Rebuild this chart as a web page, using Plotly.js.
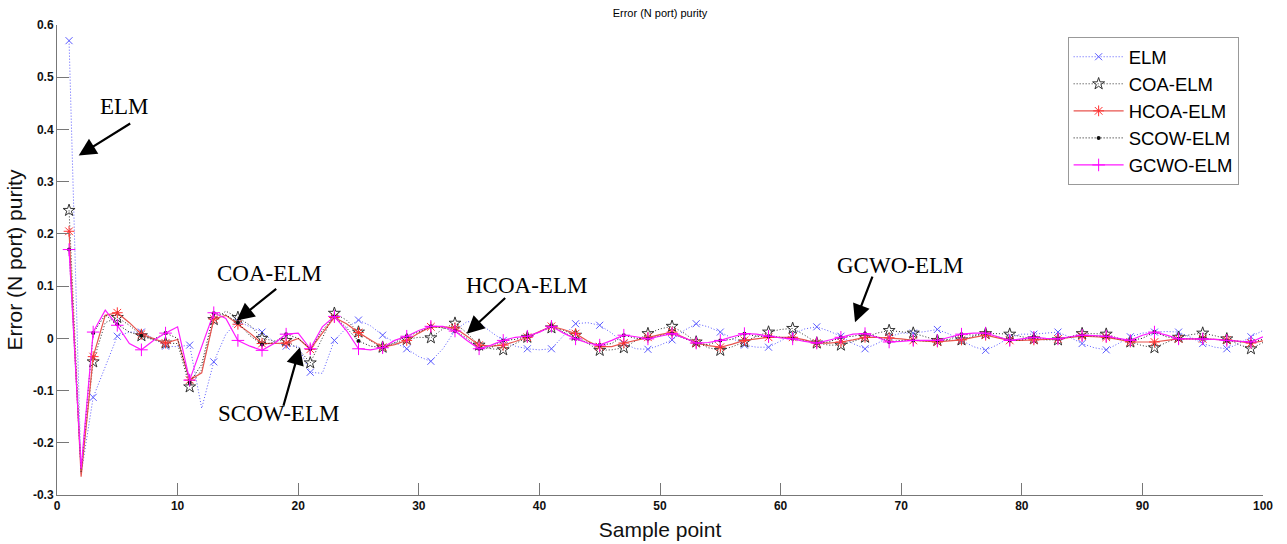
<!DOCTYPE html>
<html>
<head>
<meta charset="utf-8">
<script src="https://cdn.plot.ly/plotly-3.0.1.min.js"></script>
<style>html,body{margin:0;padding:0;background:#fff;}#chart{width:1287px;height:544px;}</style>
</head>
<body>
<div id="chart"></div>
<script>
// ---- data ----
const seriesNames = ['ELM', 'COA-ELM', 'HCOA-ELM', 'SCOW-ELM', 'GCWO-ELM'];

const elm = [0.57,-0.26,-0.113,-0.055,0.004,0.012,0.012,0.0,-0.015,-0.016,
  -0.013,-0.134,-0.045,0.008,0.033,0.022,0.012,-0.007,-0.015,-0.015,
  -0.065,-0.067,-0.004,0.02,0.035,0.024,0.006,-0.008,-0.02,-0.035,
  -0.044,-0.02,0.015,0.032,0.03,0.012,-0.004,-0.015,-0.02,-0.022,
  -0.02,0.005,0.028,0.03,0.025,0.01,-0.01,-0.02,-0.021,-0.013,
  -0.003,0.015,0.028,0.022,0.012,0.0,-0.013,-0.017,-0.017,-0.005,
  0.008,0.018,0.022,0.014,0.004,-0.01,-0.02,-0.01,0.003,0.01,
  0.01,0.013,0.017,0.008,-0.004,-0.016,-0.023,-0.012,0.002,0.008,
  0.008,0.01,0.012,0.002,-0.01,-0.018,-0.022,-0.01,0.003,0.01,
  0.012,0.013,0.012,0.002,-0.01,-0.017,-0.02,-0.01,0.003,0.015];

const coa = [0.245,-0.255,-0.045,0.03,0.04,0.025,0.005,-0.003,-0.009,-0.01,
  -0.093,-0.06,0.036,0.052,0.04,0.025,0.0,-0.005,-0.004,-0.02,
  -0.047,0.0,0.048,0.035,0.012,-0.005,-0.017,-0.01,-0.002,0.002,
  0.001,0.018,0.029,0.01,-0.013,-0.02,-0.022,-0.01,0.002,0.013,
  0.02,0.015,0.006,-0.01,-0.023,-0.022,-0.018,-0.005,0.009,0.018,
  0.023,0.01,-0.007,-0.018,-0.023,-0.016,-0.007,0.004,0.012,0.017,
  0.019,0.006,-0.009,-0.013,-0.013,-0.006,0.002,0.01,0.015,0.013,
  0.01,0.003,-0.004,-0.004,-0.003,0.004,0.009,0.009,0.008,0.003,
  -0.001,-0.003,-0.003,0.003,0.009,0.009,0.008,0.0,-0.007,-0.014,
  -0.018,-0.008,0.002,0.007,0.01,0.005,-0.001,-0.012,-0.02,-0.008];

const hcoa = [0.205,-0.265,-0.035,0.044,0.049,0.03,0.008,0.0,-0.009,-0.002,
  -0.08,-0.066,0.037,0.044,0.027,0.01,-0.01,-0.01,-0.009,0.0,
  -0.021,0.01,0.04,0.028,0.011,-0.003,-0.017,-0.012,-0.004,0.01,
  0.022,0.022,0.02,0.004,-0.013,-0.015,-0.013,-0.006,0.002,0.013,
  0.023,0.017,0.009,-0.005,-0.016,-0.016,-0.009,-0.004,0.002,0.007,
  0.012,0.002,-0.009,-0.014,-0.017,-0.011,-0.004,-0.001,0.002,0.002,
  0.002,-0.003,-0.009,-0.009,-0.007,-0.003,0.002,0.002,0.001,-0.001,
  -0.004,-0.006,-0.007,-0.005,-0.003,0.002,0.006,0.001,-0.004,-0.004,
  -0.003,-0.002,-0.001,0.002,0.004,0.003,0.002,-0.002,-0.007,-0.007,
  -0.007,-0.004,-0.001,-0.001,-0.001,-0.002,-0.003,-0.006,-0.009,-0.005];

const scow = [0.17,-0.255,0.01,0.045,0.027,0.012,0.005,-0.002,0.01,0.0,
  -0.085,-0.05,0.048,0.045,0.03,0.005,-0.012,-0.008,0.008,0.0,
  -0.02,0.015,0.042,0.02,-0.005,-0.015,-0.018,-0.008,0.004,0.012,
  0.023,0.02,0.014,0.0,-0.02,-0.018,-0.004,-0.002,0.004,0.012,
  0.023,0.012,-0.001,-0.008,-0.013,-0.01,0.006,0.0,-0.001,0.005,
  0.009,0.0,-0.009,-0.012,-0.004,-0.002,0.009,0.004,0.004,0.002,
  -0.001,-0.005,-0.009,-0.007,0.002,0.004,0.009,0.003,-0.007,-0.004,
  -0.004,-0.005,-0.004,-0.002,0.008,0.006,0.01,0.003,-0.004,-0.003,
  0.002,-0.001,-0.001,0.002,0.006,0.004,0.004,-0.001,-0.004,0.0,
  0.012,0.003,-0.001,-0.001,-0.001,-0.002,-0.004,-0.006,-0.007,-0.002];

const gcwo = [0.17,-0.25,0.012,0.054,0.025,-0.01,-0.022,-0.004,0.01,0.022,
  -0.08,-0.015,0.049,0.038,-0.004,-0.015,-0.023,-0.01,0.008,0.01,
  -0.02,0.022,0.042,0.015,-0.02,-0.022,-0.018,-0.004,0.004,0.015,
  0.023,0.023,0.014,-0.004,-0.02,-0.013,-0.004,0.002,0.004,0.012,
  0.023,0.01,-0.001,-0.009,-0.013,-0.004,0.006,0.003,-0.001,0.004,
  0.009,0.001,-0.009,-0.008,-0.004,0.003,0.009,0.008,0.004,0.001,
  -0.001,-0.006,-0.009,-0.004,0.002,0.008,0.009,0.002,-0.007,-0.006,
  -0.004,-0.004,-0.004,0.002,0.008,0.01,0.01,0.003,-0.004,-0.001,
  0.002,0.0,-0.001,0.003,0.006,0.005,0.004,0.0,-0.004,0.006,
  0.012,0.006,-0.001,-0.001,-0.001,-0.002,-0.004,-0.006,-0.007,0.003];

const xTickVals = [0,10,20,30,40,50,60,70,80,90,100];
const xTickLabels = ['0','10','20','30','40','50','60','70','80','90','100'];
const yTickVals = [-0.3,-0.2,-0.1,0,0.1,0.2,0.3,0.4,0.5,0.6];
const yTickLabels = ['-0.3','-0.2','-0.1','0','0.1','0.2','0.3','0.4','0.5','0.6'];

const annTexts = ['ELM', 'COA-ELM', 'SCOW-ELM', 'HCOA-ELM', 'GCWO-ELM'];

// ---- build ----
const samples = elm.map((_, i) => i + 1);
const allSeries = [elm, coa, hcoa, scow, gcwo];

const styles = [
  {lc: '#5a5aff', dash: '1px,2px', lw: 1, sym: 'x-thin-open', mc: '#5a5aff', ms: 7, mlw: 1},
  {lc: '#333333', dash: '1px,2px', lw: 1, sym: 'star-open', mc: '#333333', ms: 9, mlw: 1},
  {lc: '#e8554f', dash: 'solid', lw: 1.2, sym: 'asterisk-open', mc: '#ff3030', ms: 9, mlw: 1},
  {lc: '#111111', dash: '1px,2px', lw: 1, sym: 'circle', mc: '#111111', ms: 4, mlw: 0},
  {lc: '#ff1aff', dash: 'solid', lw: 1.2, sym: 'cross-thin-open', mc: '#ff00ff', ms: 9, mlw: 1}
];

const traces = [];
allSeries.forEach((ys, k) => {
  const s = styles[k];
  const oddX = samples.filter((_, i) => i % 2 === 0);
  const oddY = ys.filter((_, i) => i % 2 === 0);
  traces.push({
    x: samples, y: ys, type: 'scatter', mode: 'lines',
    line: {color: s.lc, width: s.lw, dash: s.dash},
    showlegend: false, legendgroup: 'g' + k, hoverinfo: 'skip'
  });
  traces.push({
    x: oddX, y: oddY, type: 'scatter', mode: 'markers',
    marker: {symbol: s.sym, color: s.mc, size: s.ms, line: {color: s.mc, width: s.mlw}},
    showlegend: false, legendgroup: 'g' + k, hoverinfo: 'skip'
  });
});
// legend entries
allSeries.forEach((ys, k) => {
  const s = styles[k];
  traces.push({
    x: [null], y: [null], type: 'scatter', mode: 'lines+markers', name: seriesNames[k],
    line: {color: s.lc, width: s.lw, dash: s.dash},
    marker: {symbol: s.sym, color: s.mc, size: s.ms, line: {color: s.mc, width: s.mlw}},
    legendgroup: 'g' + k
  });
});

const serif = 'Liberation Serif, Times New Roman, serif';
const textAnn = (t, x, y) => ({text: t, x: x, y: y, xref: 'x', yref: 'y', showarrow: false,
  font: {family: serif, size: 23, color: '#000'}, xanchor: 'center', yanchor: 'middle'});
const arrowAnn = (x, y, ax, ay) => ({text: '', x: x, y: y, xref: 'x', yref: 'y', ax: ax, ay: ay,
  showarrow: true, arrowhead: 2, arrowsize: 1.6, arrowwidth: 2.2, arrowcolor: '#000'});

const layout = {
  width: 1287, height: 544,
  margin: {l: 57, r: 24, t: 25, b: 49},
  paper_bgcolor: '#fff', plot_bgcolor: '#fff',
  font: {family: 'Liberation Sans, Arial, sans-serif', color: '#000'},
  title: {text: 'Error (N port) purity', font: {size: 11, color: '#000'},
    x: 0.5, xref: 'paper', y: 0.975, yref: 'container', yanchor: 'middle'},
  xaxis: {
    range: [0, 100], tickvals: xTickVals, ticktext: xTickLabels,
    ticks: 'inside', ticklen: 12, tickcolor: '#777', tickwidth: 1,
    showline: true, linecolor: '#777', linewidth: 1, mirror: false,
    showgrid: false, zeroline: false,
    tickfont: {size: 12, family: 'Liberation Sans, Arial', weight: 'bold', color: '#111'},
    title: {text: 'Sample point', font: {size: 21, color: '#111'}, standoff: 9}
  },
  yaxis: {
    range: [-0.3, 0.6], tickvals: yTickVals, ticktext: yTickLabels,
    ticks: 'inside', ticklen: 12, tickcolor: '#777', tickwidth: 1,
    showline: true, linecolor: '#777', linewidth: 1, mirror: false,
    showgrid: false, zeroline: false,
    tickfont: {size: 12, family: 'Liberation Sans, Arial', weight: 'bold', color: '#111'},
    title: {text: 'Error (N port) purity', font: {size: 21, color: '#111'}, standoff: 4}
  },
  legend: {
    x: 0.838, y: 0.974, xanchor: 'left', yanchor: 'top',
    bgcolor: '#fff', bordercolor: '#999', borderwidth: 1,
    font: {size: 18.5, family: 'Liberation Sans, Arial', color: '#000'},
    tracegroupgap: 0, itemwidth: 50
  },
  annotations: [
    textAnn(annTexts[0], 5.56, 0.444), arrowAnn(1.8, 0.35, 53, -33),
    textAnn(annTexts[1], 17.66, 0.125), arrowAnn(14.9, 0.034, 41, -33),
    textAnn(annTexts[2], 18.4, -0.144), arrowAnn(20.15, -0.017, -17, 60),
    textAnn(annTexts[3], 38.93, 0.1015), arrowAnn(33.97, 0.009, 40, -37),
    textAnn(annTexts[4], 69.9, 0.14), arrowAnn(66.17, 0.031, 18, -47)
  ]
};

Plotly.newPlot('chart', traces, layout, {staticPlot: true, displayModeBar: false});
</script>
</body>
</html>
